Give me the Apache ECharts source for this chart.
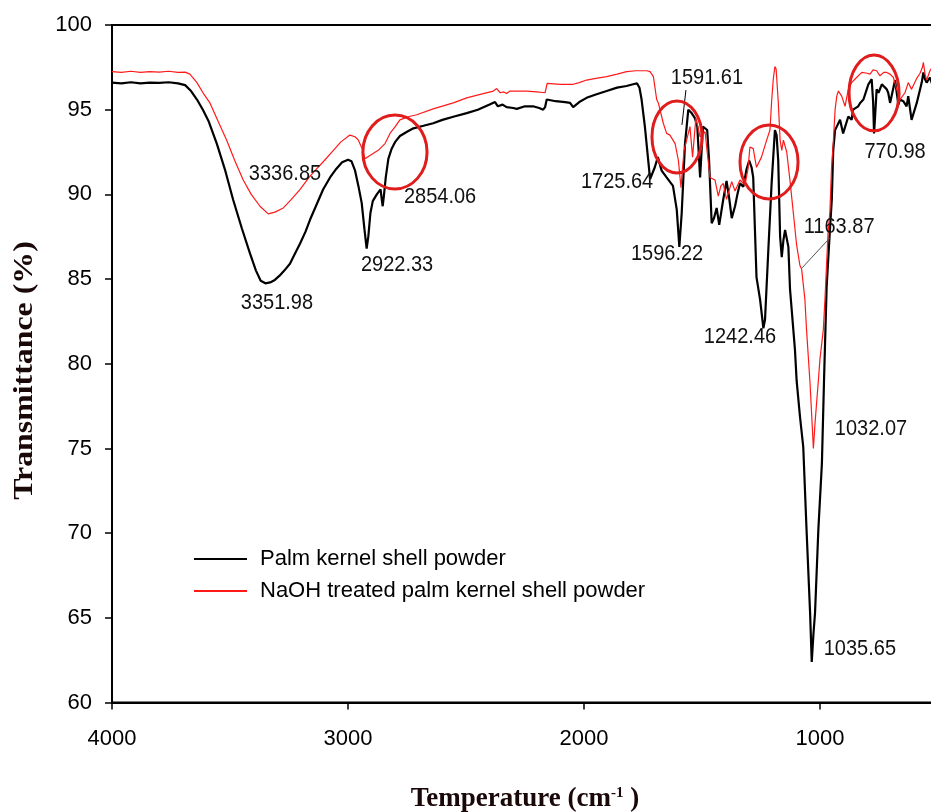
<!DOCTYPE html>
<html><head><meta charset="utf-8">
<script src="https://cdn.jsdelivr.net/npm/echarts@6/dist/echarts.min.js"></script>
<style>html,body{margin:0;padding:0;background:#fff}#c{width:931px;height:812px}</style>
</head><body><div id="c"></div>
<script>
// ---------- data ----------
const xTickValues = [1000, 2000, 3000, 4000];
const seriesNames = ['Palm kernel shell powder', 'NaOH treated palm kernel shell powder'];

// [wavenumber (cm-1), transmittance (%)]
const palmKernelShell = [[4000,96.6],[3960,96.55],[3920,96.62],[3880,96.55],[3840,96.6],[3800,96.58],[3760,96.62],[3720,96.55],[3690,96.45],[3665,96.1],[3640,95.6],[3615,95.0],[3590,94.3],[3556,93.0],[3520,91.4],[3487,89.7],[3450,88.0],[3415,86.5],[3390,85.5],[3370,84.9],[3350,84.75],[3330,84.8],[3310,84.95],[3290,85.2],[3270,85.5],[3246,85.9],[3225,86.5],[3203,87.1],[3180,87.8],[3161,88.5],[3133,89.4],[3105,90.3],[3076,91.0],[3050,91.5],[3025,91.9],[3000,92.05],[2985,91.95],[2970,91.4],[2956,90.5],[2942,89.5],[2930,87.9],[2921,86.8],[2914,87.5],[2905,88.9],[2895,89.6],[2878,90.0],[2862,90.3],[2856,89.6],[2853,89.3],[2848,89.9],[2840,91.0],[2829,92.1],[2815,92.7],[2800,93.1],[2780,93.45],[2750,93.7],[2723,93.9],[2680,94.05],[2639,94.2],[2600,94.4],[2550,94.6],[2497,94.8],[2450,95.0],[2400,95.3],[2377,95.45],[2365,95.2],[2345,95.3],[2328,95.15],[2300,95.1],[2285,95.05],[2250,95.2],[2216,95.2],[2190,95.1],[2173,95.0],[2165,95.15],[2158,95.6],[2120,95.5],[2080,95.45],[2059,95.4],[2046,95.15],[2020,95.45],[1989,95.7],[1950,95.9],[1904,96.1],[1860,96.3],[1820,96.4],[1792,96.5],[1775,96.55],[1765,96.3],[1756,95.6],[1742,94.0],[1730,92.3],[1720,90.9],[1712,91.0],[1700,91.6],[1687,92.2],[1671,91.4],[1650,91.0],[1623,90.5],[1607,89.1],[1596,86.9],[1586,88.9],[1572,93.0],[1558,95.0],[1544,94.8],[1530,94.5],[1520,94.0],[1508,91.0],[1496,94.0],[1478,93.8],[1470,92.0],[1459,88.3],[1449,88.6],[1438,89.2],[1427,88.2],[1410,89.7],[1396,90.8],[1385,89.8],[1374,88.6],[1360,89.3],[1350,90.0],[1339,90.65],[1325,90.45],[1311,91.5],[1300,92.0],[1290,91.6],[1283,91.0],[1269,85.1],[1254,83.8],[1240,82.1],[1233,82.6],[1219,86.7],[1205,90.65],[1191,93.8],[1184,93.5],[1177,92.0],[1169,87.5],[1162,86.3],[1155,87.3],[1148,87.9],[1141,88.0],[1134,86.9],[1127,84.4],[1106,80.8],[1099,79.0],[1085,76.9],[1071,75.1],[1057,70.2],[1042,65.3],[1035,62.4],[1028,64.0],[1021,65.3],[1007,70.2],[992,74.1],[983,79.0],[972,84.5],[958,87.9],[950,89.7],[944,92.6],[936,93.8],[929,94.0],[915,94.4],[902,93.6],[894,93.7],[880,94.6],[866,94.4],[860,95.0],[838,95.2],[830,95.4],[816,95.6],[802,96.2],[795,96.5],[781,96.8],[775,95.5],[771,93.6],[767,94.5],[760,96.2],[752,96.0],[738,96.5],[733,96.6],[717,96.2],[711,96.0],[703,95.4],[689,96.3],[682,96.75],[668,95.3],[661,95.6],[647,95.5],[633,95.2],[626,95.8],[612,94.4],[605,94.4],[590,95.4],[569,96.6],[562,97.2],[555,96.8],[548,96.6],[534,96.9],[520,96.3],[500,96.4]];

const naohTreated = [[4000,97.25],[3960,97.2],[3920,97.27],[3880,97.2],[3840,97.25],[3800,97.22],[3760,97.27],[3720,97.2],[3690,97.22],[3670,97.1],[3640,96.6],[3610,95.9],[3585,95.4],[3550,94.3],[3514,93.2],[3480,92.0],[3444,90.85],[3410,90.0],[3373,89.3],[3338,88.85],[3310,88.95],[3274,89.2],[3240,89.7],[3203,90.3],[3165,91.0],[3133,91.5],[3100,92.0],[3062,92.6],[3030,93.1],[2992,93.5],[2970,93.4],[2956,93.2],[2940,92.7],[2928,92.1],[2907,92.3],[2872,92.6],[2843,93.0],[2822,93.6],[2800,94.0],[2780,94.4],[2740,94.6],[2709,94.7],[2639,95.05],[2554,95.4],[2497,95.7],[2440,95.9],[2384,96.1],[2370,96.25],[2355,96.0],[2340,96.05],[2328,95.95],[2314,96.1],[2243,96.1],[2200,96.05],[2165,96.0],[2160,95.95],[2156,96.55],[2100,96.5],[2046,96.5],[2020,96.6],[1989,96.75],[1950,96.85],[1904,96.95],[1860,97.1],[1819,97.25],[1780,97.3],[1734,97.3],[1720,97.25],[1706,96.95],[1692,95.6],[1685,95.4],[1664,94.2],[1650,93.6],[1636,93.5],[1614,93.0],[1600,92.0],[1589,90.4],[1583,91.5],[1576,92.6],[1565,93.2],[1551,94.0],[1540,92.2],[1526,94.5],[1508,93.4],[1487,93.7],[1478,92.5],[1466,91.0],[1445,90.85],[1431,89.9],[1420,90.5],[1410,90.65],[1396,89.7],[1374,90.75],[1360,90.2],[1339,90.85],[1318,90.55],[1305,91.5],[1297,92.8],[1283,92.7],[1269,91.6],[1248,92.2],[1226,93.2],[1212,93.8],[1205,95.5],[1198,96.8],[1191,97.55],[1186,97.4],[1177,95.5],[1169,93.2],[1162,92.6],[1155,93.2],[1141,92.5],[1127,90.8],[1113,88.9],[1099,87.0],[1085,85.8],[1078,85.6],[1064,83.8],[1057,82.0],[1042,78.8],[1035,76.9],[1028,75.0],[1021,76.5],[1007,79.0],[1000,80.3],[986,82.0],[979,83.8],[966,87.7],[958,89.0],[951,91.6],[944,93.0],[936,95.0],[929,95.8],[922,96.1],[915,96.0],[908,95.8],[894,95.2],[880,96.2],[866,96.6],[845,96.9],[823,97.2],[800,97.15],[788,97.1],[775,97.35],[760,97.3],[746,97.0],[730,97.2],[717,97.2],[703,97.1],[689,96.9],[675,96.2],[661,95.6],[640,96.0],[626,96.6],[612,96.2],[590,96.85],[576,97.15],[566,97.5],[562,97.8],[555,97.1],[548,96.75],[534,97.3],[520,97.6],[500,97.5]];

// peak annotations (text, anchored in data coordinates)
const peakLabelTexts = ['3336.85','3351.98','2922.33','2854.06','1725.64','1591.61','1596.22','1242.46','1163.87','1032.07','1035.65','770.98'];
const peakLabelAnchors = [[3267,91.2],[3301,83.6],[2792,85.8],[2610,89.85],[1860,90.73],[1479,96.87],[1648,86.48],[1339,81.58],[919,88.08],[784,76.15],[831,63.16],[682,92.5]];
// highlight ellipses: [centre wavenumber, centre %, half-width cm-1, half-height %]
const highlightEllipses = [[2801,92.5,136,2.18],[1606,93.39,106,2.13],[1216,91.91,123,2.18],[771,95.99,106,2.24]];
// leader lines: [[from], [to]] in data coordinates
const leaderLines = [[[1568,96.16],[1585,94.1]],[[958,87.43],[1076,85.66]]];

// ---------- chart ----------
const chart = echarts.init(document.getElementById('c'));
const SANS = '"Liberation Sans", Arial, sans-serif';
const SERIF = '"Liberation Serif", "Times New Roman", serif';

chart.setOption({
  animation: false,
  backgroundColor: '#fff',
  grid: { left: 112, top: 25, right: -7, bottom: 109.5, containLabel: false, outerBoundsMode: 'none',
    show: true, borderColor: '#000', borderWidth: 2, backgroundColor: 'transparent' },
  xAxis: {
    type: 'value', inverse: true, min: 500, max: 4000,
    axisLine: { show: true, onZero: false, lineStyle: { color: '#000', width: 2 } },
    axisTick: { show: true, inside: false, length: 7, customValues: xTickValues, lineStyle: { color: '#000', width: 1.5 } },
    axisLabel: { customValues: xTickValues, margin: 25, fontSize: 22, color: '#000', fontFamily: SANS, formatter: v => String(v) },
    splitLine: { show: false },
    name: 'Temperature (cm{sup|-1} )', nameLocation: 'middle', nameGap: 83,
    nameTextStyle: { fontFamily: SERIF, fontWeight: 'bold', fontSize: 27, color: '#1a0808',
      rich: { sup: { fontFamily: SERIF, fontWeight: 'bold', fontSize: 15, color: '#1a0808', verticalAlign: 'top', padding: [0, 0, 12, 0] } } }
  },
  yAxis: {
    type: 'value', min: 60, max: 100, interval: 5,
    axisLine: { show: true, onZero: false, lineStyle: { color: '#000', width: 2 } },
    axisTick: { show: true, inside: false, length: 7, lineStyle: { color: '#000', width: 1.5 } },
    axisLabel: { margin: 20, fontSize: 22, color: '#000', fontFamily: SANS, formatter: v => String(v) },
    splitLine: { show: false }
  },
  legend: {
    orient: 'vertical', left: 189, top: 543, itemWidth: 53, itemHeight: 2, itemGap: 10, icon: 'rect',
    textStyle: { fontSize: 22, fontFamily: SANS, color: '#000', padding: [0, 0, 0, 8] },
    data: seriesNames
  },
  series: [
    { name: seriesNames[0], type: 'line', data: palmKernelShell, showSymbol: false, symbol: 'none',
      lineStyle: { color: '#000', width: 2.2 }, itemStyle: { color: '#000' }, z: 2 },
    { name: seriesNames[1], type: 'line', data: naohTreated, showSymbol: false, symbol: 'none',
      lineStyle: { color: '#ff1a1a', width: 1.2 }, itemStyle: { color: '#ff1a1a' }, z: 3 }
  ]
});

function toPx(p) { return chart.convertToPixel({ gridIndex: 0 }, p); }
const graphics = [];
peakLabelTexts.forEach((t, i) => {
  const p = toPx(peakLabelAnchors[i]);
  graphics.push({ type: 'text', x: p[0], y: p[1], scaleY: 1.08, z: 50,
    style: { text: t, font: '20px ' + SANS, fill: '#111', align: 'center', verticalAlign: 'middle' } });
});
highlightEllipses.forEach(e => {
  const c = toPx([e[0], e[1]]);
  const ex = toPx([e[0] - e[2], e[1]]);
  const ey = toPx([e[0], e[1] + e[3]]);
  graphics.push({ type: 'ellipse', z: 60,
    shape: { cx: c[0], cy: c[1], rx: Math.abs(ex[0] - c[0]), ry: Math.abs(c[1] - ey[1]) },
    style: { fill: 'none', stroke: '#e01c1c', lineWidth: 3 } });
});
leaderLines.forEach((l, i) => {
  const a = toPx(l[0]), b = toPx(l[1]);
  graphics.push({ type: 'line', z: 55, shape: { x1: a[0], y1: a[1], x2: b[0], y2: b[1] },
    style: { stroke: i === 0 ? '#000' : '#555', lineWidth: 1 } });
});
const g = chart.getModel().getComponent('grid').coordinateSystem.getRect();
graphics.push({ type: 'text', x: 25, y: g.y + g.height * 0.51, rotation: Math.PI / 2, scaleX: 1.18, z: 50,
  style: { text: 'Transmittance (%)', font: 'bold 27px ' + SERIF, fill: '#1a0808', align: 'center', verticalAlign: 'middle' } });
chart.setOption({ graphic: graphics });
</script></body></html>
